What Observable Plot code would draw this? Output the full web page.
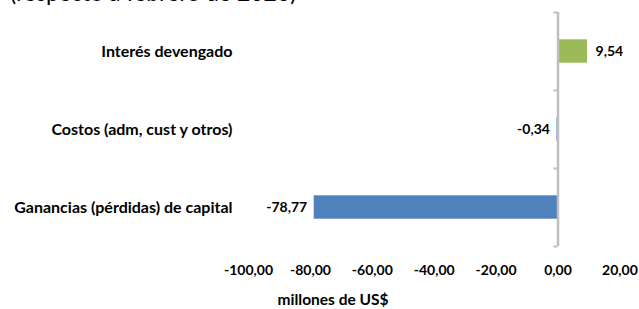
<!DOCTYPE html>
<html>
<head>
<meta charset="utf-8">
<script src="https://cdn.jsdelivr.net/npm/d3@7"></script>
<script src="https://cdn.jsdelivr.net/npm/@observablehq/plot@0.6"></script>
<style>
  html, body { margin: 0; padding: 0; background: #fff; overflow: hidden; }
  #wrap { position: relative; width: 639px; height: 309px; overflow: hidden; }
  #title { position: absolute; left: 10px; top: -19px; font-family: Lato, sans-serif; font-size: 23px; line-height: 23px; color: #000; white-space: nowrap; }
  #chart { position: absolute; left: 0; top: 0; }
</style>
</head>
<body>
<div id="wrap">
  <div id="chart"></div>
  <div id="title">(respecto a febrero de 2020)</div>
</div>
<script>
const categories = ["Interés devengado", "Costos (adm, cust y otros)", "Ganancias (pérdidas) de capital"];
const values = [9.54, -0.34, -78.77];
const barColors = ["#9bbb59", "#4f81bd", "#4f81bd"];
const xTicks = [-100, -80, -60, -40, -20, 0, 20];
const xTitle = "millones de US$";

const data = categories.map((c, i) => ({cat: c, i, value: values[i], color: barColors[i]}));
const bounds = d3.range(-0.5, categories.length, 1);
const fmt = v => v.toFixed(2).replace(".", ",");

const font = "Lato, sans-serif";
const chart = Plot.plot({
  width: 639,
  height: 309,
  marginLeft: 248,
  marginRight: 19.6,
  marginTop: 12,
  marginBottom: 63,
  style: {fontFamily: font, fontSize: "14px", color: "#000", background: "transparent"},
  x: {domain: [-100, 20]},
  y: {domain: [categories.length - 0.5, -0.5], axis: null},
  marks: [
    Plot.rectX(data, {x1: 0, x2: "value", y1: d => d.i - 0.15, y2: d => d.i + 0.15, fill: d => d.color}),
    Plot.ruleX([0], {y1: -0.5, y2: categories.length - 0.5, stroke: "#bfbfbf", strokeWidth: 2.5}),
    Plot.ruleY(bounds, {x1: -1.3, x2: 0, stroke: "#bfbfbf", strokeWidth: 2}),
    Plot.text(data, {x: -100, y: "i", text: "cat", textAnchor: "end", dx: -16, fontWeight: "bold", fontSize: 16, fill: "#000"}),
    Plot.text(data.filter(d => d.value >= 0), {x: "value", y: "i", text: d => fmt(d.value), textAnchor: "start", dx: 8, fontWeight: "bold", fill: "#000"}),
    Plot.text(data.filter(d => d.value < 0), {x: "value", y: "i", text: d => fmt(d.value), textAnchor: "end", dx: -7, fontWeight: "bold", fill: "#000"}),
    Plot.axisX({ticks: xTicks, tickFormat: fmt, tickSize: 0, tickPadding: 19, fontWeight: "bold", fill: "#000", label: null}),
    Plot.text([xTitle], {frameAnchor: "bottom-left", textAnchor: "middle", lineAnchor: "middle", dx: 84.5, dy: 54, fontWeight: "bold", fontSize: 15.5, fill: "#000"})
  ]
});
document.getElementById("chart").appendChild(chart);
</script>
</body>
</html>
